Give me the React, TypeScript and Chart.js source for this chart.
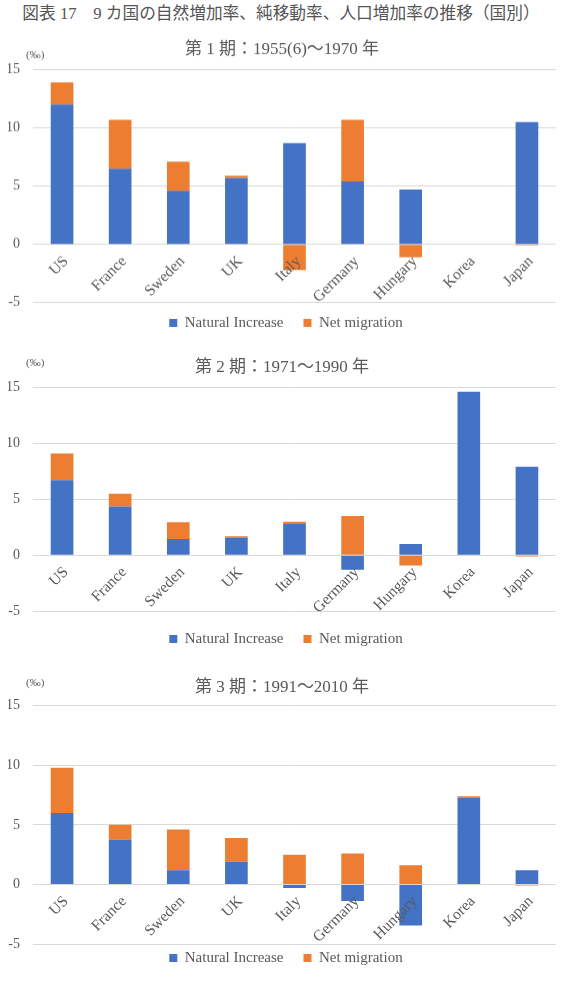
import React, { useEffect, useRef } from "react";
import { Chart, registerables } from "chart.js";

Chart.register(...registerables);

// ---------- data ----------
const pageTitle = "図表 17　9 カ国の自然増加率、純移動率、人口増加率の推移（国別）";
const countries = ["US", "France", "Sweden", "UK", "Italy", "Germany", "Hungary", "Korea", "Japan"];
const seriesNames = ["Natural Increase", "Net migration"];
const periodTitles = ["第 1 期：1955(6)〜1970 年", "第 2 期：1971〜1990 年", "第 3 期：1991〜2010 年"];
const unitLabel = "(‰)";

const natural1 = [12.0, 6.5, 4.6, 5.7, 8.7, 5.4, 4.7, null, 10.5];
const net1 = [1.9, 4.2, 2.5, 0.2, -2.2, 5.3, -1.1, null, -0.1];

const natural2 = [6.7, 4.35, 1.45, 1.6, 2.8, -1.3, 1.0, 14.6, 7.9];
const net2 = [2.4, 1.15, 1.5, 0.1, 0.2, 3.5, -0.9, 0, -0.1];

const natural3 = [6.0, 3.75, 1.2, 1.9, -0.3, -1.4, -3.45, 7.3, 1.2];
const net3 = [3.8, 1.25, 3.4, 2.0, 2.5, 2.6, 1.6, 0.1, -0.1];

const yMin = -5;
const yMax = 15;
const yStep = 5;

// ---------- styles ----------
const BLUE = "#4472C4";
const ORANGE = "#ED7D31";
const TEXT = "#595959";
const GRID = "#D9D9D9";
const SERIF = '"Liberation Serif", "Noto Sans CJK JP", serif';

type Layout = {
  titleY: number;
  plotTop: number;
  plotBottom: number;
  legendY: number;
  unitY: number;
};

const layouts: Layout[] = [
  { titleY: 50, plotTop: 69.5, plotBottom: 301.7, legendY: 322, unitY: 55 },
  { titleY: 368, plotTop: 387.3, plotBottom: 611.3, legendY: 639, unitY: 363 },
  { titleY: 688, plotTop: 705.7, plotBottom: 944, legendY: 958, unitY: 683 },
];

const TITLE_SIZE = 17;
const LEGEND_SIZE = 15;
const LEGEND_PAD = 20;

function PeriodChart(props: { title: string; natural: (number | null)[]; net: (number | null)[]; layout: Layout }) {
  const ref = useRef<HTMLCanvasElement | null>(null);
  const { title, natural, net, layout } = props;
  const T = layout.titleY - 20;
  const titleLine = TITLE_SIZE * 1.2;
  const padTop = 20 - titleLine / 2;
  const padBottom = layout.plotTop - T - padTop - titleLine;
  const legendHeight = LEGEND_SIZE + LEGEND_PAD + 10;
  const H = layout.plotBottom - T + legendHeight;

  useEffect(() => {
    if (!ref.current) return;
    const legendTop = layout.legendY - T - LEGEND_PAD - LEGEND_SIZE / 2;
    const extras = {
      id: "extras",
      afterLayout(chart: any) {
        const lg = chart.legend;
        if (lg) {
          const dy = legendTop - lg.top;
          lg.top += dy;
          lg.bottom += dy;
          lg.left += 4;
          lg.right += 4;
        }
      },
      afterDraw(chart: any) {
        const ctx = chart.ctx;
        ctx.save();
        ctx.font = `11px ${SERIF}`;
        ctx.fillStyle = TEXT;
        ctx.textAlign = "left";
        ctx.textBaseline = "middle";
        ctx.fillText(unitLabel, 26, layout.unitY - T);
        ctx.restore();
      },
    };
    const chart = new Chart(ref.current, {
      type: "bar",
      data: {
        labels: countries,
        datasets: [
          { label: seriesNames[0], data: natural, backgroundColor: BLUE, borderWidth: 0 },
          { label: seriesNames[1], data: net, backgroundColor: ORANGE, borderWidth: 0 },
        ],
      },
      options: {
        animation: false,
        responsive: true,
        maintainAspectRatio: false,
        layout: { padding: { left: 8, right: 6, top: 0, bottom: 0 } },
        datasets: { bar: { categoryPercentage: 1, barPercentage: 0.39 } },
        plugins: {
          title: {
            display: true,
            text: title,
            color: TEXT,
            font: { family: SERIF, size: TITLE_SIZE, weight: "normal", lineHeight: 1.2 },
            padding: { top: padTop, bottom: padBottom },
          },
          legend: {
            display: true,
            position: "bottom",
            labels: {
              boxWidth: 8,
              boxHeight: 8,
              padding: LEGEND_PAD,
              color: TEXT,
              font: { family: SERIF, size: LEGEND_SIZE },
            },
          },
          tooltip: { enabled: false },
        },
        scales: {
          x: {
            type: "category",
            position: { y: 0 } as any,
            stacked: true,
            grid: { display: false, drawTicks: false },
            border: { display: false },
            ticks: {
              autoSkip: false,
              minRotation: 45,
              maxRotation: 45,
              padding: 8,
              labelOffset: 4,
              color: TEXT,
              font: { family: SERIF, size: 15.5 },
              z: 1,
            },
          },
          y: {
            stacked: true,
            min: yMin,
            max: yMax,
            grid: { color: GRID, lineWidth: 1, drawTicks: false },
            border: { display: false },
            ticks: {
              stepSize: yStep,
              padding: 13,
              color: TEXT,
              font: { family: SERIF, size: 14 },
            },
            afterFit: (scale: any) => {
              scale.width = 25;
            },
          },
        },
      },
      plugins: [extras],
    });
    return () => chart.destroy();
  }, []);

  return (
    <div style={{ position: "absolute", left: 0, top: T, width: 562, height: H }}>
      <canvas ref={ref} />
    </div>
  );
}

export default function App() {
  const sets = [
    { natural: natural1, net: net1 },
    { natural: natural2, net: net2 },
    { natural: natural3, net: net3 },
  ];
  return (
    <div style={{ position: "absolute", left: 0, top: 0, width: 562, height: 988, background: "#fff" }}>
      <div
        style={{
          position: "absolute",
          left: 0,
          top: 3,
          width: 562,
          textAlign: "center",
          fontFamily: SERIF,
          fontSize: 16.7,
          lineHeight: "21px",
          color: "#555",
          whiteSpace: "nowrap",
        }}
      >
        {pageTitle}
      </div>
      {sets.map((s, i) => (
        <PeriodChart key={i} title={periodTitles[i]} natural={s.natural} net={s.net} layout={layouts[i]} />
      ))}
    </div>
  );
}
